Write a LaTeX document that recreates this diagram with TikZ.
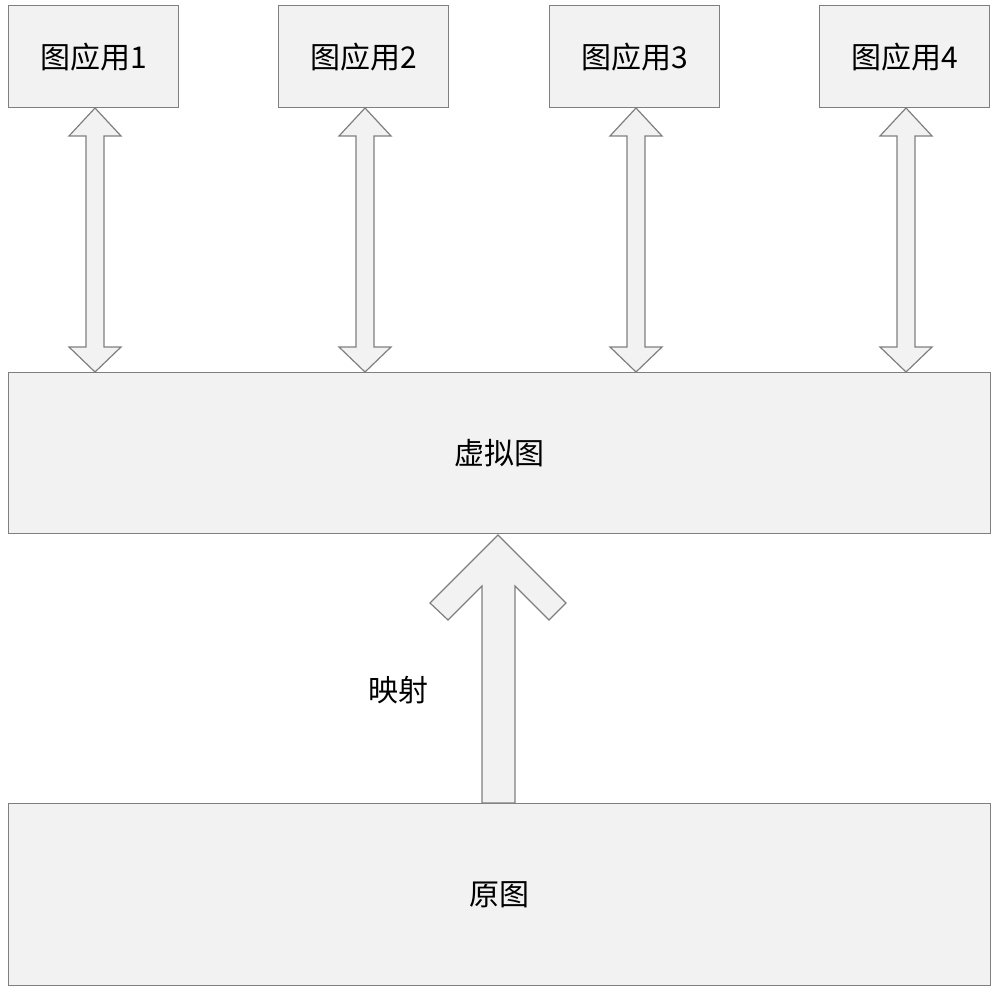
\documentclass[tikz,border=0pt]{standalone}
\usepackage{fontspec}
\newfontfamily\cjk{Noto Sans CJK SC}
\setmainfont{Carlito}
\definecolor{bfill}{HTML}{F2F2F2}
\definecolor{bline}{HTML}{7F7F7F}
\begin{document}
\begin{tikzpicture}[x=1pt,y=-1pt,
  box/.style={draw=bline,fill=bfill,line width=1.2pt,inner sep=0pt,anchor=north west,font=\cjk\fontsize{30}{34}\selectfont},
  arr/.style={draw=bline,fill=bfill,line width=1.2pt,line join=miter}]
\useasboundingbox (0,0) rectangle (1000,995);
\foreach \i/\x in {1/8,2/278,3/549,4/819}{
  \node[box,minimum width=170pt,minimum height=102pt] (app\i) at (\x,5) {图应用\i};
  \pgfmathsetmacro\c{\x+87}
  \draw[arr] (\c,108) -- (\c+26,136) -- (\c+9,136) -- (\c+9,347) -- (\c+26,347) -- (\c,372) -- (\c-26,347) -- (\c-9,347) -- (\c-9,136) -- (\c-26,136) -- cycle;
}
\node[box,minimum width=982pt,minimum height=161pt] (virt) at (8,372) {虚拟图};
\node[box,minimum width=982pt,minimum height=182pt] (orig) at (8,803) {原图};
\draw[arr] (498,535) -- (566,603) -- (549,620) -- (515,586) -- (515,803) -- (482,803) -- (482,586) -- (448,620) -- (430,603) -- cycle;
\node[font=\cjk\fontsize{30}{34}\selectfont] (map) at (398,690) {映射};
\end{tikzpicture}
\end{document}
